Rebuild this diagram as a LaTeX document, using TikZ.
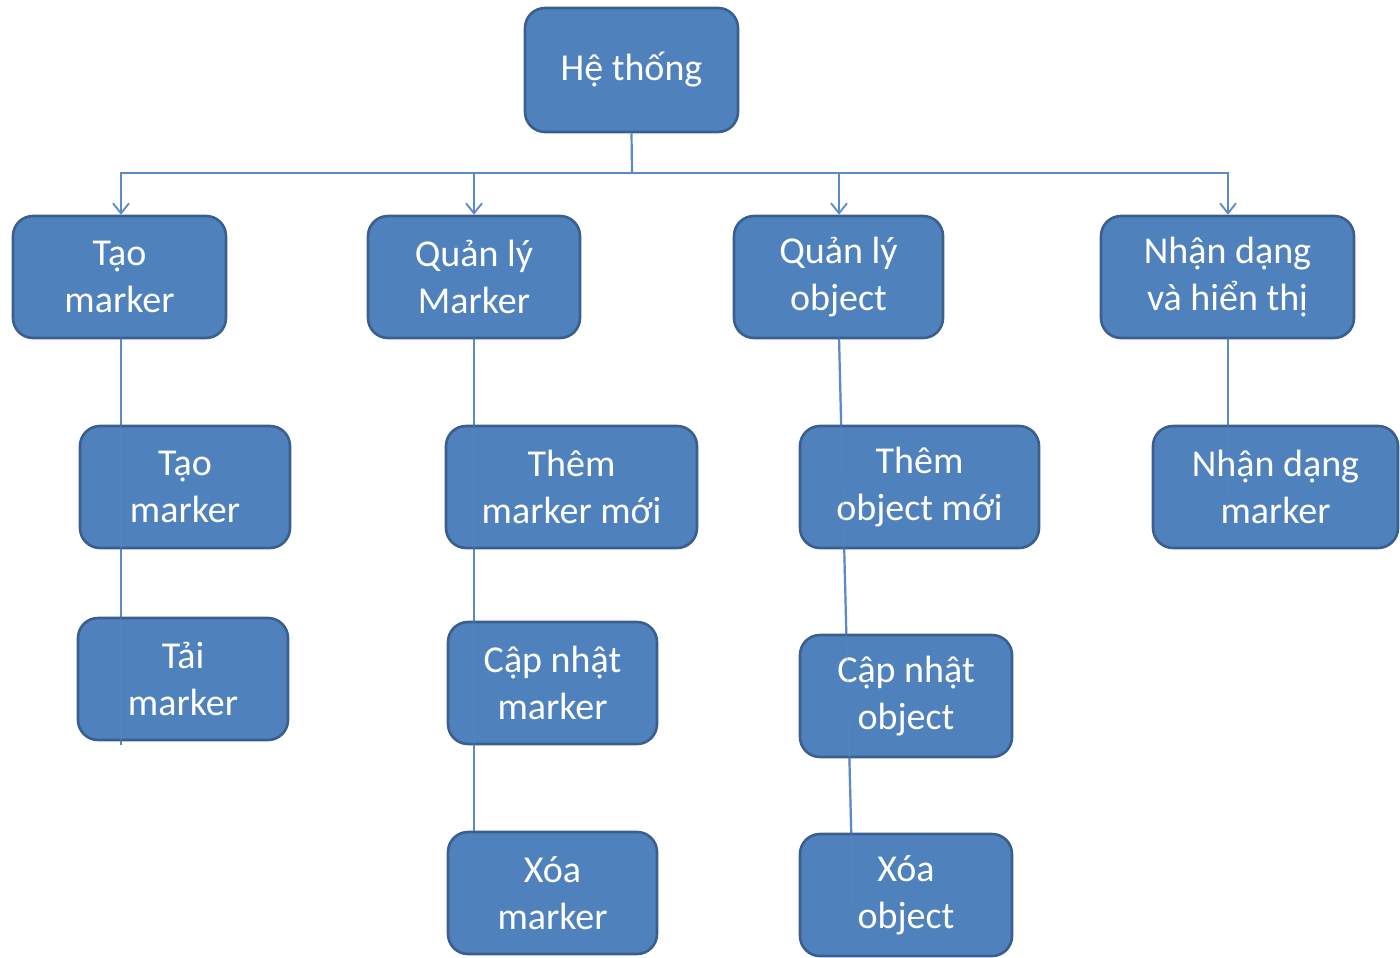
\documentclass[tikz,border=0pt]{standalone}
\usepackage{fontspec}
\setmainfont{Carlito}
\usetikzlibrary{arrows.meta}
\definecolor{boxfill}{HTML}{4F81BD}
\definecolor{boxline}{HTML}{3A5F8E}
\definecolor{conn}{HTML}{5B8AC6}
\tikzset{
  box/.style={draw=boxline, line width=1.3pt, fill=boxfill,
    rounded corners=10pt, text=white, align=center, inner sep=0pt,
    font=\fontsize{19}{23.5}\selectfont},
  conline/.style={draw=conn, line width=1.1pt},
  arr/.style={conline, -{Straight Barb[length=5pt,width=8pt,line width=0.9pt]}}
}
\begin{document}
\begin{tikzpicture}[x=0.5pt,y=-0.5pt]
\useasboundingbox (0,0) rectangle (1400,957);
% coordinates for free ends
\coordinate (e1) at (121,745);
\coordinate (e3) at (853,905);
\coordinate (e4) at (1228,495);
\coordinate (hub) at (632,173);
\coordinate (a1s) at (121,337);
\coordinate (b1s) at (474,337);
\coordinate (c1s) at (839,337);
\coordinate (d1s) at (1228,337);
\coordinate (b4n) at (474,831);
% connectors behind boxes
\draw[conline] (a1s) -- (e1);
\draw[conline] (b1s) -- (b4n);
\draw[conline] (c1s) -- (e3);
\draw[conline] (d1s) -- (e4);
% boxes
\node[box, minimum width=106.5pt, minimum height=62pt] (root) at (631.5,70) {Hệ thống};
\node[box, minimum width=106.5pt, minimum height=61pt] (A1) at (119.5,277) {Tạo\\marker};
\node[box, minimum width=106pt, minimum height=61pt] (B1) at (474,277) {Quản lý\\Marker};
\node[box, minimum width=104.5pt, minimum height=61pt] (C1) at (838.5,277) {Quản lý\\object};
\node[box, minimum width=126.5pt, minimum height=61pt] (D1) at (1227.5,277) {Nhận dạng\\và hiển thị};
\node[box, minimum width=105pt, minimum height=61pt] (A2) at (185,487) {Tạo\\marker};
\node[box, minimum width=125.5pt, minimum height=61pt] (B2) at (571.5,487) {Thêm\\marker mới};
\node[box, minimum width=119.5pt, minimum height=61pt] (C2) at (919.5,487) {Thêm\\object mới};
\node[box, minimum width=122.5pt, minimum height=61pt] (D2) at (1275.5,487) {Nhận dạng\\marker};
\node[box, minimum width=105pt, minimum height=61pt] (A3) at (183,679) {Tải\\marker};
\node[box, minimum width=104.5pt, minimum height=61pt] (B3) at (552.5,683) {Cập nhật\\marker};
\node[box, minimum width=106pt, minimum height=61pt] (C3) at (906,696) {Cập nhật\\object};
\node[box, minimum width=104.5pt, minimum height=61pt] (B4) at (552.5,893) {Xóa\\marker};
\node[box, minimum width=106pt, minimum height=61pt] (C4) at (906,895) {Xóa\\object};
% faint lines through boxes
\draw[conline, opacity=0.3] (a1s) -- (e1);
\draw[conline, opacity=0.3] (b1s) -- (b4n);
\draw[conline, opacity=0.3] (c1s) -- (e3);
\draw[conline, opacity=0.3] (d1s) -- (e4);
% tree from root
\draw[conline] (root.south) -- (hub);
\draw[arr] (hub) -| (A1.north -| a1s);
\draw[arr] (hub) -| (B1.north);
\draw[arr] (hub) -| (C1.north -| c1s);
\draw[arr] (hub) -| (D1.north -| d1s);
\end{tikzpicture}
\end{document}
